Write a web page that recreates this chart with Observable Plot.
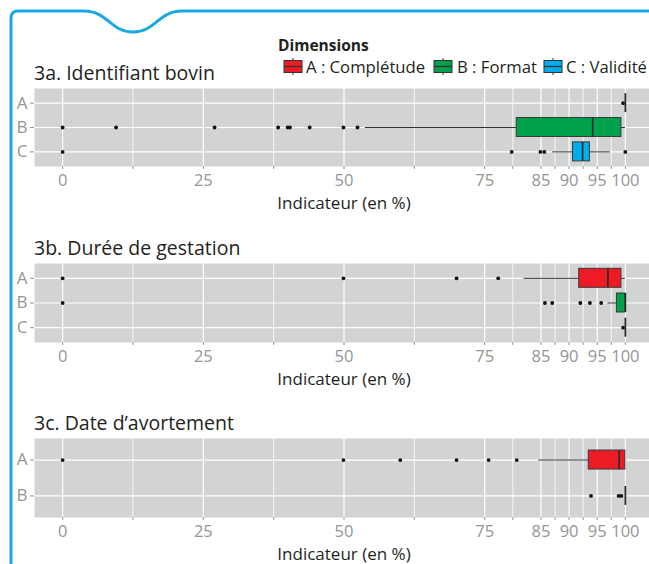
<!DOCTYPE html>
<html><head><meta charset="utf-8">
<script src="https://cdn.jsdelivr.net/npm/d3@7"></script>
<script src="https://cdn.jsdelivr.net/npm/@observablehq/plot@0.6"></script>
<style>
html,body{margin:0;padding:0;background:#fff;overflow:hidden}
#wrap{position:relative;width:649px;height:564px;overflow:hidden;font-family:"Open Sans",sans-serif}
.plot{position:absolute;left:0;max-width:none !important}
#overlay{position:absolute;left:0;top:0;pointer-events:none}
</style></head>
<body>
<div id="wrap"></div>
<script>
// ---------- data ----------
const dimColors = {A: "#ed1c24", B: "#00a14b", C: "#00aeef"};
const legendLabels = ["A : Complétude", "B : Format", "C : Validité"];
const majorBreaks = [0, 25, 50, 75, 85, 90, 95, 100];
const minorBreaks = [12.5, 37.5, 62.5, 80, 87.5, 92.5, 97.5];
const axisTitle = "Indicateur (en %)";

// 3a. Identifiant bovin
const title3a = "3a. Identifiant bovin";
const dims3a = ["A", "B", "C"];
const low3a  = [100, 53.8, 87.1];
const q1_3a  = [100, 80.7, 90.7];
const med3a  = [100, 94.2, 92.4];
const q3_3a  = [100, 99.3, 93.7];
const high3a = [100, 100, 97.3];
const out3a  = [[99.6], [0, 9.5, 27, 38.3, 40, 40.4, 43.9, 49.9, 52.4], [0, 79.8, 84.9, 85.6, 100]];

// 3b. Durée de gestation
const title3b = "3b. Durée de gestation";
const dims3b = ["A", "B", "C"];
const low3b  = [82.0, 96.9, 100];
const q1_3b  = [91.8, 98.5, 100];
const med3b  = [96.9, 100, 100];
const q3_3b  = [99.3, 100, 100];
const high3b = [100, 100, 100];
const out3b  = [[0, 49.9, 70, 77.4], [0, 85.7, 87.0, 92.0, 93.7, 95.7], [99.6]];

// 3c. Date d'avortement
const title3c = "3c. Date d’avortement";
const dims3c = ["A", "B"];
const low3c  = [84.6, 100];
const q1_3c  = [93.5, 100];
const med3c  = [98.9, 100];
const q3_3c  = [100, 100];
const high3c = [100, 100];
const out3c  = [[0, 49.9, 60.0, 70.0, 75.7, 80.7], [93.9, 98.8, 99.3]];

// ---------- layout ----------
const W = 660, ML = 34, MR = 7, MB = 50;
const BOX_PX = 19;
const tickGray = "#939598";
const wrap = document.getElementById("wrap");

function panel(dims, low, q1, med, q3, high, outs, panelH, top) {
  const stats = dims.map((d, i) => ({dim: d, low: low[i], q1: q1[i], med: med[i], q3: q3[i], high: high[i]}));
  const pts = dims.flatMap((d, i) => outs[i].map(v => ({dim: d, value: v})));
  const step = panelH / (dims.length + 0.2);
  const inset = (step - BOX_PX) / 2;
  const allBreaks = [...majorBreaks, ...minorBreaks].sort((a, b) => a - b);
  const svg = Plot.plot({
    width: W, height: panelH + MB,
    marginLeft: ML, marginRight: MR, marginTop: 0, marginBottom: MB,
    style: {fontFamily: "'Open Sans', sans-serif", fontSize: "16px", background: "transparent", overflow: "visible", maxWidth: "none"},
    x: {domain: [-5, 105]},
    y: {type: "band", domain: dims, paddingInner: 0, paddingOuter: 0.1, round: false},
    marks: [
      Plot.frame({fill: "#d1d3d4", stroke: null}),
      Plot.ruleX(minorBreaks, {stroke: "#fff", strokeWidth: 0.8}),
      Plot.ruleX(majorBreaks, {stroke: "#fff", strokeWidth: 1.2}),
      Plot.ruleY(dims, {y: d => d, stroke: "#fff", strokeWidth: 1.2}),
      Plot.ruleY(stats, {y: "dim", x1: "low", x2: "q1", stroke: "#333", strokeWidth: 1}),
      Plot.ruleY(stats, {y: "dim", x1: "q3", x2: "high", stroke: "#333", strokeWidth: 1}),
      Plot.rect(stats.filter(s => s.q3 > s.q1), {y: "dim", x1: "q1", x2: "q3", fill: d => dimColors[d.dim],
        stroke: "#3a3a3a", strokeWidth: 1, insetTop: inset, insetBottom: inset}),
      Plot.dot(pts, {x: "value", y: "dim", r: 1.9, fill: "#111", stroke: null}),
      Plot.tickX(stats, {x: "med", y: "dim", stroke: "#2a2a2a", strokeWidth: 1.7, insetTop: inset, insetBottom: inset}),
      Plot.axisX({ticks: allBreaks, tickFormat: d => majorBreaks.includes(d) ? String(d) : "",
        tickSize: 3, tickPadding: 5, fontSize: 16.5, color: tickGray, stroke: tickGray, label: null}),
      Plot.axisY({tickSize: 4, tickPadding: 3, fontSize: 17, color: tickGray, stroke: tickGray, label: null}),
      Plot.text([axisTitle], {text: d => d, frameAnchor: "bottom", lineAnchor: "bottom", dy: 42,
        fontSize: 17, fill: "#231f20"})
    ]
  });
  svg.classList.add("plot");
  svg.style.top = top + "px";
  svg.style.maxWidth = "none";
  wrap.appendChild(svg);
}

panel(dims3a, low3a, q1_3a, med3a, q3_3a, high3a, out3a, 78, 88);
panel(dims3b, low3b, q1_3b, med3b, q3_3b, high3b, out3b, 79, 263);
panel(dims3c, low3c, q1_3c, med3c, q3_3c, high3c, out3c, 79, 438);

// ---------- overlay: frame decoration, titles, legend ----------
const NS = "http://www.w3.org/2000/svg";
const ov = document.createElementNS(NS, "svg");
ov.setAttribute("id", "overlay");
ov.setAttribute("width", 649); ov.setAttribute("height", 564);
function el(tag, attrs, text) {
  const e = document.createElementNS(NS, tag);
  for (const k in attrs) e.setAttribute(k, attrs[k]);
  if (text != null) e.textContent = text;
  ov.appendChild(e); return e;
}
el("path", {d: "M11,570 V18 Q11,11 18,11 H84 C108,11 110,32 133,32 C156,32 158,11 182,11 H660",
  fill: "none", stroke: "#1ba7e6", "stroke-width": 3});
const titleStyle = {"font-family": "'Open Sans', sans-serif", "font-size": 19.5, fill: "#231f20"};
el("text", {x: 34, y: 80, ...titleStyle}, title3a);
el("text", {x: 34, y: 255, ...titleStyle}, title3b);
el("text", {x: 34, y: 430, ...titleStyle}, title3c);
el("text", {x: 278, y: 51, "font-family": "'Open Sans', sans-serif", "font-size": 15.5, "font-weight": "bold", fill: "#231f20"}, "Dimensions");
const keyX = [284, 434, 544], textX = [306, 457, 566];
["A", "B", "C"].forEach((d, i) => {
  const kx = keyX[i];
  el("line", {x1: kx + 9, x2: kx + 9, y1: 58, y2: 75, stroke: "#333", "stroke-width": 1});
  el("rect", {x: kx, y: 60.5, width: 18, height: 12, fill: dimColors[d], stroke: "#333", "stroke-width": 1});
  el("line", {x1: kx, x2: kx + 18, y1: 66.5, y2: 66.5, stroke: "#333", "stroke-width": 1.3});
  el("text", {x: textX[i], y: 73, "font-family": "'Open Sans', sans-serif", "font-size": 16.7, fill: "#231f20"}, legendLabels[i]);
});
wrap.appendChild(ov);
</script>
</body></html>
